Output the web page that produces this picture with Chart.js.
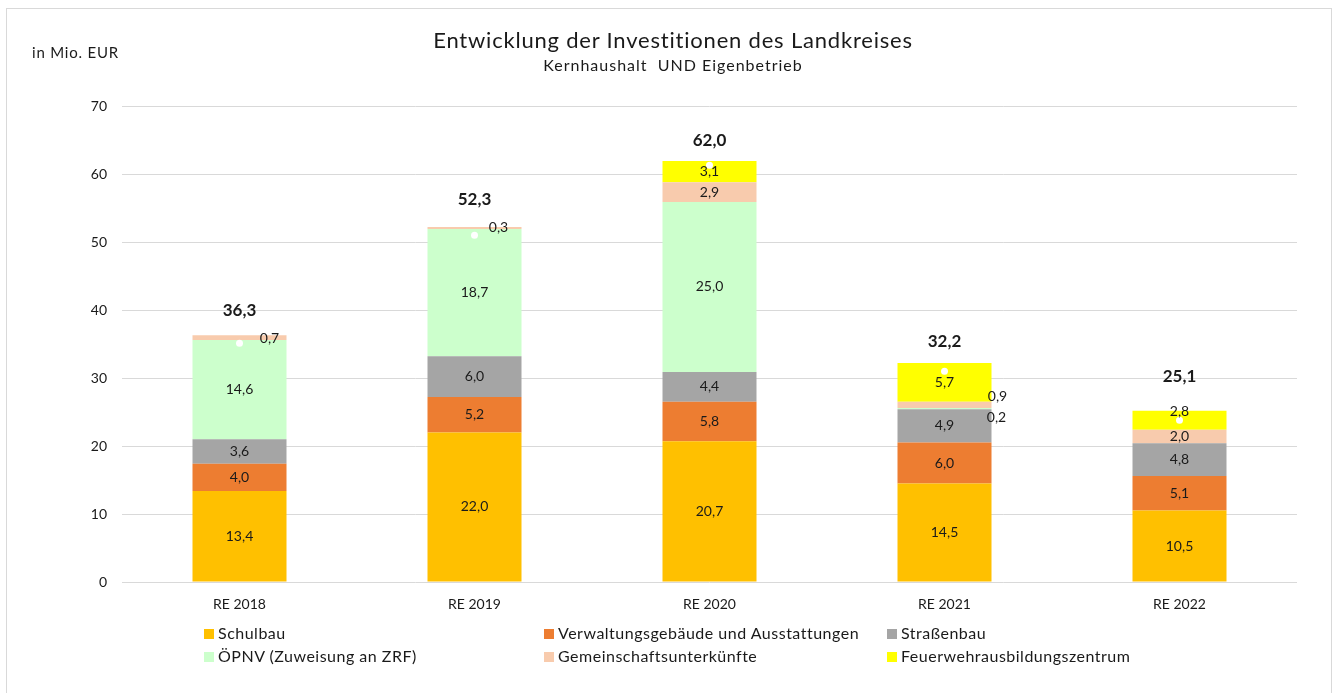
<!DOCTYPE html>
<html>
<head>
<meta charset="utf-8">
<script src="https://cdn.jsdelivr.net/npm/chart.js@4.4.1/dist/chart.umd.min.js"></script>
<style>
  html, body { margin: 0; padding: 0; background: #fff; }
  body { width: 1335px; height: 693px; position: relative; overflow: hidden; font-family: Lato, "Noto Sans", sans-serif; color: #1a1a1a; }
  #frame { position: absolute; left: 6px; top: 8px; width: 1326px; height: 690px; border: 1px solid #d9d9d9; box-sizing: border-box; }
  #chart { position: absolute; left: 0; top: 0; }
  .txt { position: absolute; white-space: nowrap; }
  #title { left: 0; width: 1346px; top: 26px; text-align: center; font-size: 22px; letter-spacing: 0.8px; }
  #subtitle { left: 0; width: 1346px; top: 55px; text-align: center; font-size: 16px; letter-spacing: 1px; }
  #unit { left: 32px; top: 43px; font-size: 15px; letter-spacing: 0.8px; }
  .leg { position: absolute; font-size: 16px; line-height: 18px; letter-spacing: 0.5px; }
  .leg span.box { display: inline-block; width: 10px; height: 10px; margin-right: 4px; vertical-align: 0px; }
</style>
</head>
<body>
<div id="frame"></div>
<canvas id="chart" width="1335" height="693"></canvas>
<div id="title" class="txt">Entwicklung der Investitionen des Landkreises</div>
<div id="subtitle" class="txt">Kernhaushalt&nbsp; UND Eigenbetrieb</div>
<div id="unit" class="txt">in Mio. EUR</div>
<div id="legend"></div>
<script>
const categories = ['RE 2018', 'RE 2019', 'RE 2020', 'RE 2021', 'RE 2022'];

const schulbau = [13.4, 22.0, 20.7, 14.5, 10.5];
const verwaltung = [4.0, 5.2, 5.8, 6.0, 5.1];
const strassenbau = [3.6, 6.0, 4.4, 4.9, 4.8];
const oepnv = [14.6, 18.7, 25.0, 0.2, null];
const gemeinschaft = [0.7, 0.3, 2.9, 0.9, 2.0];
const feuerwehr = [null, null, 3.1, 5.7, 2.8];

const totals = [36.3, 52.3, 62.0, 32.2, 25.1];
const markers = [35.1, 51.0, 61.3, 31.0, 23.8];

const yTicks = [0, 10, 20, 30, 40, 50, 60, 70];

// label tweaks for the thin segments (pixel offsets from segment centre)
const smallLabelOffsets = {
  '4-0': [30, 1], '4-1': [24, -1], '4-3': [53, -8], '3-3': [52, 9], '5-4': [0, -9]
};
const totalLabelGap = [25, 27, 20, 22, 35];

const series = [
  { label: 'Schulbau', data: schulbau, color: '#FFC000' },
  { label: 'Verwaltungsgebäude und Ausstattungen', data: verwaltung, color: '#ED7D31' },
  { label: 'Straßenbau', data: strassenbau, color: '#A5A5A5' },
  { label: 'ÖPNV (Zuweisung an ZRF)', data: oepnv, color: '#CCFFCC' },
  { label: 'Gemeinschaftsunterkünfte', data: gemeinschaft, color: '#F8CBAD' },
  { label: 'Feuerwehrausbildungszentrum', data: feuerwehr, color: '#FFFF00' }
];

const fmt = v => v.toFixed(1).replace('.', ',');
const FONT = 'Lato, "Noto Sans", sans-serif';

const labelPlugin = {
  id: 'barLabels',
  afterDatasetsDraw(chart) {
    const ctx = chart.ctx;
    ctx.save();
    ctx.textAlign = 'center';
    ctx.textBaseline = 'middle';
    ctx.fillStyle = '#1a1a1a';
    ctx.font = '14px ' + FONT;
    series.forEach((s, di) => {
      const meta = chart.getDatasetMeta(di);
      meta.data.forEach((bar, i) => {
        const v = s.data[i];
        if (v == null) return;
        const off = smallLabelOffsets[di + '-' + i] || [0, 0];
        const cy = (bar.y + bar.base) / 2;
        ctx.fillText(fmt(v), bar.x + off[0], cy + off[1]);
      });
    });
    // totals
    const topMeta = chart.getDatasetMeta(0);
    ctx.font = 'bold 17px ' + FONT;
    totals.forEach((t, i) => {
      const x = topMeta.data[i].x;
      const y = chart.scales.y.getPixelForValue(t) - totalLabelGap[i];
      ctx.fillText(fmt(t), x, y);
    });
    ctx.restore();
  }
};

const datasets = series.map(s => ({
  type: 'bar',
  label: s.label,
  data: s.data,
  backgroundColor: s.color,
  borderWidth: 0,
  barPercentage: 0.8,
  categoryPercentage: 0.5,
  order: 2
}));
datasets.push({
  type: 'line',
  label: 'Summe',
  data: markers,
  showLine: false,
  pointRadius: 3.5,
  pointBackgroundColor: '#ffffff',
  pointBorderWidth: 0,
  order: 1
});

new Chart(document.getElementById('chart'), {
  data: { labels: categories, datasets },
  options: {
    responsive: false,
    animation: false,
    layout: { padding: { left: 72, right: 38, top: 106, bottom: 0 } },
    plugins: {
      legend: { display: false },
      tooltip: { enabled: false }
    },
    scales: {
      x: {
        stacked: true,
        grid: { display: false, drawTicks: false },
        border: { display: false },
        ticks: { color: '#1a1a1a', font: { family: FONT, size: 14 }, padding: 14 },
        afterFit(scale) { scale.height = 111; }
      },
      y: {
        stacked: true,
        min: 0,
        max: 70,
        afterBuildTicks(scale) { scale.ticks = yTicks.map(v => ({ value: v })); },
        grid: { color: '#d9d9d9', drawTicks: false },
        border: { display: false },
        ticks: { color: '#1a1a1a', font: { family: FONT, size: 14 }, padding: 15 },
        afterFit(scale) { scale.width = 50; }
      }
    }
  },
  plugins: [labelPlugin]
});

// legend in three columns
const legendCols = [204, 544, 887];
const legendRows = [624, 647];
const legend = document.getElementById('legend');
series.forEach((s, i) => {
  const d = document.createElement('div');
  d.className = 'leg';
  d.style.left = legendCols[i % 3] + 'px';
  d.style.top = legendRows[Math.floor(i / 3)] + 'px';
  d.innerHTML = '<span class="box" style="background:' + s.color + '"></span>' + s.label;
  legend.appendChild(d);
});
</script>
</body>
</html>
